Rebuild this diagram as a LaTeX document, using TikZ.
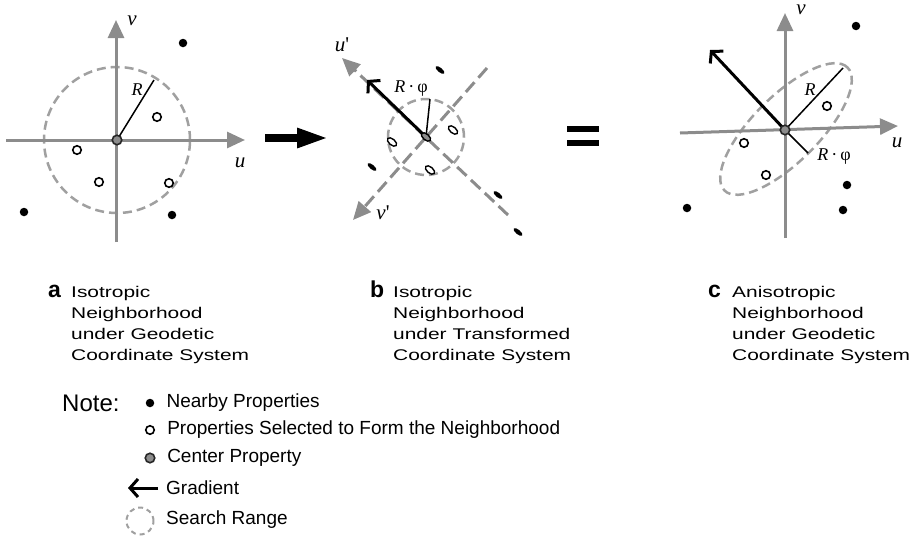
\documentclass[tikz,border=0pt]{standalone}
\usepackage{fontspec}
\setmainfont{Liberation Sans}
\newfontfamily\capfont[FakeStretch=1.35]{Liberation Sans}
\newfontfamily\axfont{Liberation Serif}
\usetikzlibrary{arrows.meta,shapes.geometric,positioning,calc}
\definecolor{axgray}{RGB}{140,140,140}
\definecolor{rangegray}{RGB}{160,160,160}
\newcommand{\Rphi}{{\itshape R}\,·\,φ}

\begin{document}
\begin{tikzpicture}[x=1pt,y=-1pt,
  axis/.style={draw=axgray,line width=3pt,-{Triangle[length=18pt,width=16pt]}},
  daxis/.style={axis,dash pattern=on 13pt off 6pt},
  rangecirc/.style={circle,draw=rangegray,line width=2.5pt,dash pattern=on 9pt off 5pt,
                    inner sep=0pt},
  radline/.style={line width=1.5pt},
  grad/.style={line width=3pt,-{Straight Barb[length=8pt,width=18pt]}},
  near/.style={circle,fill=black,inner sep=0pt,minimum size=8.5pt},
  sel/.style={circle,draw=black,fill=white,line width=1.6pt,inner sep=0pt,minimum size=8.5pt},
  ctr/.style={circle,draw=black!85,fill=axgray,line width=1.6pt,inner sep=0pt,minimum size=9.5pt},
  bmark/.style={ellipse,fill=black,inner sep=0pt,minimum width=11pt,minimum height=4.5pt,rotate=-40},
  smark/.style={ellipse,draw=black,fill=white,line width=1.4pt,inner sep=0pt,
                minimum width=11pt,minimum height=6pt,rotate=-40},
  cmark/.style={smark,fill=axgray},
  axlabel/.style={font=\axfont\itshape\fontsize{21}{21}\selectfont,inner sep=0pt},
  rlabel/.style={font=\axfont\fontsize{18}{18}\selectfont,inner sep=0pt},
  captext/.style={font=\capfont\fontsize{15.5}{21}\selectfont,align=left,inner sep=0pt},
  capletter/.style={font=\bfseries\fontsize{23}{23}\selectfont,inner sep=0pt},
  legtext/.style={font=\fontsize{19}{19}\selectfont,inner sep=0pt,anchor=west}]
\useasboundingbox (0,0) rectangle (914,536);

% panel a
\coordinate (oA) at (117,140);
\node[rangecirc,minimum size=146pt] (srA) at (oA) {};
\coordinate (uA0) at (6,140);
\coordinate (uA1) at (245,140);
\coordinate (vA0) at (116,242);
\coordinate (vA1) at (116,20);
\draw[axis] (uA0) -- (uA1);
\draw[axis] (vA0) -- (vA1);
\node[axlabel] (luA) at (240,163) {u};
\node[axlabel] (lvA) at (132,21) {v};
\coordinate (rA) at (154,80);
\draw[radline] (oA) -- (rA);
\node[rlabel,font=\axfont\itshape\fontsize{18}{18}\selectfont] (lrA) at (137,90) {R};
\foreach \p [count=\i] in {(157,117),(77,150),(99,182),(169,183)}
  \node[sel] (sA\i) at \p {};
\foreach \p [count=\i] in {(183,43),(24,212),(172,215)}
  \node[near] (nA\i) at \p {};
\node[ctr] (cA) at (oA) {};

% arrow between a and b
\coordinate (arS) at (265,138);
\coordinate (arE) at (329,138);
\draw[line width=8pt,-{Triangle[length=32pt,width=18pt]}] (arS) -- (arE);

% panel b
\coordinate (oB) at (426,137);
\node[rangecirc,minimum size=76pt] (srB) at (oB) {};
\coordinate (uB0) at (508,215);
\coordinate (uB1) at (342,58);
\coordinate (vB0) at (487,68);
\coordinate (vB1) at (353,220);
\draw[daxis] (uB0) -- (uB1);
\draw[daxis] (vB0) -- (vB1);
\node[axlabel] (luB) at (342,45) {u\/{\upshape '}};
\node[axlabel] (lvB) at (383,213) {v\/{\upshape '}};
\coordinate (gB) at (367,80);
\draw[grad] (oB) -- (gB);
\coordinate (rB) at (430,99);
\draw[radline] (oB) -- (rB);
\node[rlabel] (lrB) at (411,89) {\Rphi};
\foreach \p [count=\i] in {(453,130),(392,142),(430,170)}
  \node[smark] (sB\i) at \p {};
\foreach \p [count=\i] in {(440,70),(372,167),(498,195),(518,232)}
  \node[bmark] (nB\i) at \p {};
\node[cmark] (cB) at (oB) {};

% equals sign
\fill (567,126) rectangle (599,132);
\fill (567,140) rectangle (599,146);

% panel c
\coordinate (oC) at (785,130);
\node[rangecirc,ellipse,minimum width=174pt,minimum height=66pt,rotate=45] (srC) at (786,129) {};
\coordinate (uC0) at (680,133);
\coordinate (uC1) at (898,126);
\coordinate (vC0) at (785,238);
\coordinate (vC1) at (785,13);
\draw[axis] (uC0) -- (uC1);
\draw[axis] (vC0) -- (vC1);
\node[axlabel] (luC) at (897,143) {u};
\node[axlabel] (lvC) at (801,10) {v};
\coordinate (gC) at (710,50);
\draw[grad] (oC) -- (gC);
\coordinate (rC) at (843,68);
\draw[radline] (oC) -- (rC);
\coordinate (pC) at (808,153);
\draw[radline] (oC) -- (pC);
\node[rlabel,font=\axfont\itshape\fontsize{18}{18}\selectfont] (lrC) at (810,90) {R};
\node[rlabel] (lpC) at (834,157) {\Rphi};
\foreach \p [count=\i] in {(827,106),(744,143),(766,175)}
  \node[sel] (sC\i) at \p {};
\foreach \p [count=\i] in {(856,26),(847,185),(843,210),(687,208)}
  \node[near] (nC\i) at \p {};
\node[ctr] (cC) at (oC) {};

% captions
\node[capletter,anchor=base west] (labA) at (48,297.5) {a};
\node[captext,anchor=north west] (capA) at (71,286.5)
  {Isotropic\\Neighborhood\\under Geodetic\\Coordinate System};
\node[capletter,anchor=base west] (labB) at (370,297.5) {b};
\node[captext,anchor=north west] (capB) at (393,286.5)
  {Isotropic\\Neighborhood\\under Transformed\\Coordinate System};
\node[capletter,anchor=base west] (labC) at (708,297.5) {c};
\node[captext,anchor=north west] (capC) at (732,286.5)
  {Anisotropic\\Neighborhood\\under Geodetic\\Coordinate System};

% legend
\node[font=\fontsize{24}{24}\selectfont,inner sep=0pt,anchor=west] (note) at (62,403) {Note:};
\node[near] (kNear) at (150,403) {};
\node[legtext,right=12pt of kNear] (tNear) {Nearby Properties};
\node[sel] (kSel) at (150,430) {};
\node[legtext,right=12pt of kSel] (tSel) {Properties Selected to Form the Neighborhood};
\node[ctr] (kCtr) at (150,458) {};
\node[legtext,right=11.5pt of kCtr] (tCtr) {Center Property};
\coordinate (kGr0) at (158,488);
\coordinate (kGr1) at (128,488);
\draw[grad] (kGr0) -- (kGr1);
\node[legtext] (tGr) at (166,488) {Gradient};
\node[rangecirc,minimum size=27pt,line width=2pt,dash pattern=on 5pt off 4pt] (kRange) at (140,521) {};
\node[legtext] (tRange) at (166,520) {Search Range};
\end{tikzpicture}
\end{document}
